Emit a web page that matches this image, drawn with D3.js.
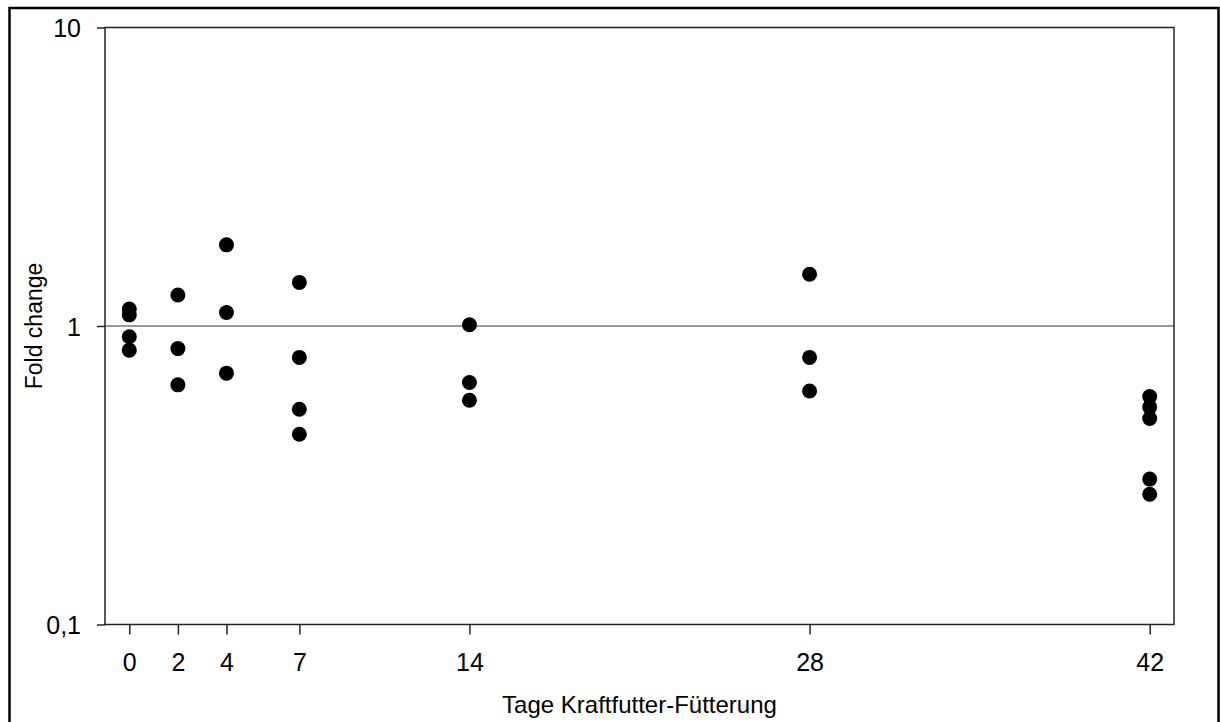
<!DOCTYPE html>
<html>
<head>
<meta charset="utf-8">
<script src="https://cdn.jsdelivr.net/npm/d3@7"></script>
<style>
  body { margin: 0; background: #fff; }
  svg { display: block; font-family: "Liberation Sans", Arial, sans-serif; }
</style>
</head>
<body>
<div id="chart"></div>
<script>
// feeding days and the fold change measured on each day
const days = [0, 2, 4, 7, 14, 28, 42];
const foldDay0 = [1.14, 1.09, 0.92, 0.83];
const foldDay2 = [1.27, 0.84, 0.635];
const foldDay4 = [1.87, 1.11, 0.695];
const foldDay7 = [1.40, 0.785, 0.526, 0.434];
const foldDay14 = [1.01, 0.647, 0.564];
const foldDay28 = [1.49, 0.785, 0.606];
const foldDay42 = [0.58, 0.535, 0.49, 0.307, 0.273];
const yTicks = [0.1, 1, 10];
const yTickLabels = ['0,1', '1', '10'];

const width = 1220, height = 722;
const margin = { top: 27.5, right: 46, bottom: 97.5, left: 105 };

const svg = d3.select('#chart').append('svg')
    .attr('width', width)
    .attr('height', height);

// outer frame around the figure
svg.append('rect')
    .attr('x', 9.5).attr('y', 8)
    .attr('width', 1209).attr('height', 730)
    .attr('fill', 'none')
    .attr('stroke', '#000')
    .attr('stroke-width', 2.5);

const x = d3.scaleLinear()
    .domain([-1, 43])
    .range([margin.left, width - margin.right]);

const y = d3.scaleLog()
    .domain([0.1, 10])
    .range([height - margin.bottom, margin.top]);

// plot box
svg.append('rect')
    .attr('x', x(-1)).attr('y', y(10))
    .attr('width', x(43) - x(-1))
    .attr('height', y(0.1) - y(10))
    .attr('fill', 'none')
    .attr('stroke', '#222')
    .attr('stroke-width', 1.5);

// reference line at fold change 1
svg.append('line')
    .attr('x1', x(-1)).attr('x2', x(43))
    .attr('y1', y(1)).attr('y2', y(1))
    .attr('stroke', '#333')
    .attr('stroke-width', 1.2);

const xAxis = svg.append('g')
    .attr('transform', `translate(0, ${y(0.1)})`)
    .call(d3.axisBottom(x).tickValues(days).tickSize(10).tickPadding(19).tickFormat(d3.format('d')));

const yAxis = svg.append('g')
    .attr('transform', `translate(${x(-1)}, 0)`)
    .call(d3.axisLeft(y).tickValues(yTicks).tickSize(8).tickPadding(16)
        .tickFormat((d, i) => yTickLabels[i]));

[xAxis, yAxis].forEach(a => {
    a.select('.domain').remove();
    a.selectAll('line').attr('stroke', '#222').attr('stroke-width', 1.5);
    a.selectAll('text')
        .attr('fill', '#000')
        .style('font-size', '25px')
        .style('font-family', '"Liberation Sans", Arial, sans-serif');
});
yAxis.selectAll('text').attr('dy', '0.36em');

// axis titles
svg.append('text')
    .attr('x', (x(-1) + x(43)) / 2)
    .attr('y', 713)
    .attr('text-anchor', 'middle')
    .style('font-size', '24px')
    .text('Tage Kraftfutter-Fütterung');

svg.append('text')
    .attr('transform', `translate(42, ${y(1)}) rotate(-90)`)
    .attr('text-anchor', 'middle')
    .style('font-size', '23px')
    .text('Fold change');

// points
const groups = [foldDay0, foldDay2, foldDay4, foldDay7, foldDay14, foldDay28, foldDay42];
const points = [];
groups.forEach((vals, i) => vals.forEach(v => points.push({ day: days[i], value: v })));

svg.selectAll('.dot')
    .data(points)
    .enter().append('circle')
    .attr('class', 'dot')
    .attr('cx', d => x(d.day))
    .attr('cy', d => y(d.value))
    .attr('r', 7.5)
    .attr('fill', '#000');
</script>
</body>
</html>
